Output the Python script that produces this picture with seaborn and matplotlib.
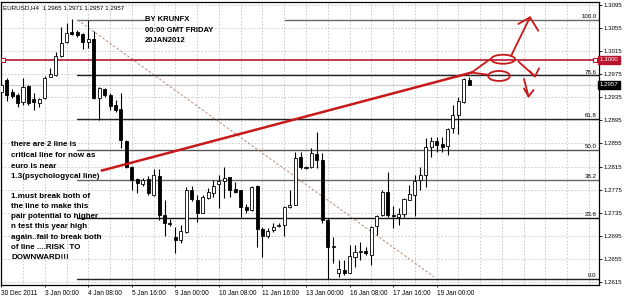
import numpy as np
import pandas as pd
import matplotlib
matplotlib.use("Agg")
import matplotlib.pyplot as plt
import matplotlib.transforms as mtrans
from matplotlib.patches import Ellipse
import seaborn as sns

# ---------------- data (EURUSD H4 candles) ----------------
bar_index = list(range(87))
opens = [1.2944, 1.2965, 1.2944, 1.2939, 1.2927, 1.2955, 1.2932, 1.2925, 1.2934, 1.2970,
         1.2974, 1.3007, 1.3031, 1.3048, 1.3048, 1.3045, 1.3031, 1.3036, 1.2934, 1.2949,
         1.2939, 1.2922, 1.2915, 1.2859, 1.2814, 1.2794, 1.2785, 1.2794, 1.2766, 1.2799,
         1.2731, 1.2717, 1.2693, 1.2688, 1.2702, 1.2774, 1.2757, 1.2735, 1.2761, 1.2769,
         1.2785, 1.2790, 1.2797, 1.2776, 1.2774, 1.2745, 1.2740, 1.2781, 1.2707, 1.2695,
         1.2705, 1.2712, 1.2714, 1.2745, 1.2748, 1.2832, 1.2813, 1.2814, 1.2837, 1.2826,
         1.2722, 1.2676, 1.2631, 1.2636, 1.2631, 1.2658, 1.2667, 1.2669, 1.2662, 1.2712,
         1.2731, 1.2771, 1.2731, 1.2728, 1.2733, 1.2757, 1.2766, 1.2792, 1.2800, 1.2849,
         1.2859, 1.2854, 1.2851, 1.2882, 1.2904, 1.2927, 1.2965]
highs = [1.2960, 1.2969, 1.2949, 1.2943, 1.2969, 1.2956, 1.2943, 1.2934, 1.2972, 1.2986,
         1.3014, 1.3057, 1.3064, 1.3071, 1.3052, 1.3047, 1.3069, 1.3050, 1.2953, 1.2951,
         1.2943, 1.2930, 1.2943, 1.2861, 1.2816, 1.2795, 1.2795, 1.2799, 1.2811, 1.2811,
         1.2757, 1.2724, 1.2710, 1.2714, 1.2780, 1.2781, 1.2766, 1.2766, 1.2778, 1.2792,
         1.2800, 1.2814, 1.2797, 1.2788, 1.2774, 1.2750, 1.2781, 1.2783, 1.2710, 1.2709,
         1.2717, 1.2717, 1.2747, 1.2774, 1.2840, 1.2840, 1.2816, 1.2847, 1.2875, 1.2839,
         1.2726, 1.2693, 1.2653, 1.2653, 1.2679, 1.2679, 1.2684, 1.2676, 1.2712, 1.2731,
         1.2774, 1.2806, 1.2747, 1.2743, 1.2761, 1.2783, 1.2800, 1.2814, 1.2865, 1.2866,
         1.2866, 1.2866, 1.2882, 1.2922, 1.2936, 1.2969, 1.2971]
lows = [1.2941, 1.2929, 1.2934, 1.2918, 1.2922, 1.2922, 1.2913, 1.2918, 1.2932, 1.2970,
        1.2972, 1.3005, 1.3029, 1.3043, 1.3040, 1.3019, 1.3021, 1.2932, 1.2896, 1.2936,
        1.2913, 1.2910, 1.2847, 1.2813, 1.2774, 1.2769, 1.2781, 1.2766, 1.2764, 1.2722,
        1.2695, 1.2712, 1.2665, 1.2683, 1.2700, 1.2755, 1.2719, 1.2735, 1.2759, 1.2762,
        1.2743, 1.2761, 1.2762, 1.2769, 1.2728, 1.2735, 1.2738, 1.2676, 1.2658, 1.2691,
        1.2702, 1.2710, 1.2695, 1.2743, 1.2748, 1.2811, 1.2811, 1.2813, 1.2813, 1.2717,
        1.2620, 1.2648, 1.2624, 1.2627, 1.2631, 1.2641, 1.2653, 1.2662, 1.2644, 1.2696,
        1.2729, 1.2728, 1.2709, 1.2714, 1.2728, 1.2757, 1.2729, 1.2774, 1.2780, 1.2832,
        1.2840, 1.2840, 1.2835, 1.2873, 1.2871, 1.2925, 1.2957]
closes = [1.2956, 1.2939, 1.2937, 1.2925, 1.2953, 1.2925, 1.2927, 1.2932, 1.2969, 1.2975,
          1.3007, 1.3029, 1.3047, 1.3045, 1.3043, 1.3031, 1.3036, 1.2934, 1.2951, 1.2939,
          1.2920, 1.2913, 1.2861, 1.2814, 1.2792, 1.2787, 1.2792, 1.2769, 1.2800, 1.2731,
          1.2717, 1.2716, 1.2688, 1.2703, 1.2774, 1.2759, 1.2735, 1.2762, 1.2771, 1.2781,
          1.2790, 1.2795, 1.2774, 1.2771, 1.2745, 1.2740, 1.2780, 1.2707, 1.2695, 1.2703,
          1.2710, 1.2714, 1.2745, 1.2748, 1.2830, 1.2814, 1.2813, 1.2839, 1.2826, 1.2722,
          1.2676, 1.2677, 1.2638, 1.2631, 1.2660, 1.2667, 1.2669, 1.2665, 1.2710, 1.2729,
          1.2771, 1.2731, 1.2729, 1.2733, 1.2759, 1.2767, 1.2790, 1.2800, 1.2849, 1.2859,
          1.2852, 1.2849, 1.2880, 1.2904, 1.2929, 1.2967, 1.2957]

date_tick_bars = [0, 8, 16, 24, 32, 40, 48, 56, 64, 72, 80]
date_tick_labels = ["30 Dec 2011", "3 Jan 00:00", "4 Jan 08:00", "5 Jan 16:00",
                    "9 Jan 00:00", "10 Jan 08:00", "11 Jan 16:00", "13 Jan 00:00",
                    "16 Jan 08:00", "17 Jan 16:00", "19 Jan 00:00"]
price_ticks = [1.3095, 1.3055, 1.3015, 1.2975, 1.2935, 1.2895, 1.2855,
               1.2815, 1.2775, 1.2735, 1.2695, 1.2655, 1.2615]
price_tick_labels = [f"{p:.4f}" for p in price_ticks]

fib_high = 1.3069
fib_low = 1.2620
fib_ratios = [100.0, 78.6, 61.8, 50.0, 38.2, 23.6, 0.0]
fib_start_bar = 14
fib_top_gap_bars = [26.4, 52.1]          # where the text hides the 100.0 line
fib_diag_bars = [14.05, 79.5]
fib_diag_prices = [1.3069, 1.2624]

psych_level = 1.3000
last_price = 1.2957
title_text = "EURUSD,H4  1.2965 1.2971 1.2957 1.2957"

# hand-drawn red annotation (bar index, price)
trend_bars = [18.45, 86.44]
trend_prices = [1.2808, 1.2978]
fork_up_bars = [86.44, 89.8]
fork_up_prices = [1.2978, 1.3001]
fork_dn_bars = [86.44, 89.43]
fork_dn_prices = [1.2978, 1.2974]
ellipse_centers_bars = [92.2, 91.46]
ellipse_centers_prices = [1.3001, 1.2972]
ellipse_widths = [4.4, 4.0]
ellipse_heights = [0.00156, 0.00173]
arrow_up_bars = [[93.66, 97.15], [95.0, 97.15, 98.67]]
arrow_up_prices = [[1.30066, 1.30737], [1.30621, 1.30737, 1.30505]]
arrow_d1_bars = [[95.06, 98.07], [97.06, 98.07, 98.81]]
arrow_d1_prices = [[1.29967, 1.29711], [1.29806, 1.29711, 1.29853]]
arrow_d2_bars = [[96.05, 96.88], [96.05, 96.88, 97.8]]
arrow_d2_prices = [[1.29668, 1.29364], [1.29503, 1.29364, 1.29477]]

header_lines = ["BY KRUNFX", "00:00 GMT FRIDAY", "20JAN2012"]
note_lines_1 = ["there are 2 line is", "critical line for now as", "euro is near",
                "1.3(psychologycal line)"]
note_lines_2 = ["1.must break both of", "the line to make this", "pair potential to higher",
                "n test this year high", "again..fail to break both", "of line ....RISK  TO",
                "DOWNWARD!!!"]

# ---------------- figure ----------------
sns.set_theme(style="white")
plt.rcParams['font.family'] = ['Liberation Sans', 'DejaVu Sans']

W, H = 625, 299
fig = plt.figure(figsize=(W / 100, H / 100), dpi=100)
fig.patch.set_facecolor("white")
ax = fig.add_axes([1 / W, 14 / H, 598 / W, 283 / H])
ax.set_facecolor("white")

XMIN, XMAX = -0.04, 109.83
YMIN, YMAX = 1.26097, 1.31002
ax.set_xlim(XMIN, XMAX)
ax.set_ylim(YMIN, YMAX)


def ref(x, y):
    """reference pixel position -> axes fraction (for text placement)"""
    return (x - 1) / 598, (285 - y) / 283


# grid
for p in price_ticks:
    ax.axhline(p, color="#c4c4c4", lw=0.6, ls=(0, (2, 2)), zorder=0)
for b in range(4, 110, 4):
    ax.axvline(b, color="#c4c4c4", lw=0.6, ls=(0, (2, 2)), zorder=0)

# bid line
ax.axhline(last_price, color="#cfcfcf", lw=0.9, zorder=1)

# fib levels
fib_colors = ["#6a6a6a", "#222222", "#222222", "#555555", "#666666", "#111111", "#222222"]
blend = mtrans.blended_transform_factory(ax.transAxes, ax.transData)
for r, c in zip(fib_ratios, fib_colors):
    lvl = fib_low + r / 100 * (fib_high - fib_low)
    if r == 100.0:
        ax.plot([fib_start_bar, fib_top_gap_bars[0]], [lvl, lvl], color=c, lw=1.0, zorder=2)
        ax.plot([fib_top_gap_bars[1], XMAX], [lvl, lvl], color=c, lw=1.0, zorder=2)
    else:
        ax.plot([fib_start_bar, XMAX], [lvl, lvl], color=c, lw=1.0, zorder=2)
    ax.text(0.996, lvl + 0.00012, f"{r:.1f}", transform=blend, ha="right", va="bottom",
            fontsize=4.4, color="black", zorder=6)

ax.plot(fib_diag_bars, fib_diag_prices, color="#b48a78", lw=0.7, ls=(0, (2.5, 2)), zorder=2)

# psychological line
red_line = "#b8142e"
ax.axhline(psych_level, color=red_line, lw=1.2, zorder=2)
ax.plot([0.35, 109.1], [psych_level, psych_level], ls="none", marker="s", ms=2.6,
        mfc="white", mec=red_line, mew=0.8, zorder=3, clip_on=False)

# candles
df = pd.DataFrame(dict(bar=bar_index, open=opens, high=highs, low=lows, close=closes))
up = df["close"] >= df["open"]
ax.vlines(df["bar"], df["low"], df["high"], color="black", lw=0.8, zorder=4)
body_bottom = np.minimum(df["open"], df["close"])
body_h = np.maximum((df["close"] - df["open"]).abs(), 0.00004)
ax.bar(df["bar"], body_h, bottom=body_bottom, width=0.56,
       color=np.where(up, "white", "black"), edgecolor="black", linewidth=0.6, zorder=5)

# red hand drawing
hand = "#c81818"
sns.lineplot(x=trend_bars, y=trend_prices, ax=ax, color=hand, lw=1.8, zorder=7)
ax.plot(fork_up_bars, fork_up_prices, color=hand, lw=1.3, zorder=7)
ax.plot(fork_dn_bars, fork_dn_prices, color=hand, lw=1.3, zorder=7)
for cx, cy, w, h in zip(ellipse_centers_bars, ellipse_centers_prices, ellipse_widths, ellipse_heights):
    ax.add_patch(Ellipse((cx, cy), w, h, fill=False, edgecolor=hand, lw=1.3, zorder=7))
for bars, prices in [(arrow_up_bars, arrow_up_prices), (arrow_d1_bars, arrow_d1_prices),
                     (arrow_d2_bars, arrow_d2_prices)]:
    for bx, py in zip(bars, prices):
        ax.plot(bx, py, color=hand, lw=1.3, zorder=7, solid_capstyle="round")

# texts
ax.text(*ref(3, 7.5), title_text, transform=ax.transAxes, fontsize=4.5, ha="left",
        va="center", color="black", zorder=8)
for line, y in zip(header_lines, [19.5, 30, 40.5]):
    ax.text(*ref(145, y), line, transform=ax.transAxes, fontsize=5.5, fontweight="bold",
            ha="left", va="center", color="black", zorder=8)
for line, y in zip(note_lines_1, [145, 155.5, 166, 176]):
    ax.text(*ref(11, y), line, transform=ax.transAxes, fontsize=5.8, fontweight="bold",
            ha="left", va="center", color="black", zorder=8)
for line, y in zip(note_lines_2, [196, 206.3, 216.6, 226.9, 237.2, 247.5, 257.8]):
    ax.text(*ref(11, y), line, transform=ax.transAxes, fontsize=5.8, fontweight="bold",
            ha="left", va="center", color="black", zorder=8)

# axes ticks
ax.yaxis.tick_right()
ax.set_yticks(price_ticks)
ax.set_yticklabels(price_tick_labels)
ax.set_xticks(date_tick_bars)
ax.set_xticklabels(date_tick_labels, ha="left")
ax.tick_params(axis="y", length=2, width=0.6, pad=1.5, labelsize=4.4, colors="black",
               direction="out", right=True)
ax.tick_params(axis="x", length=1.5, width=0.6, pad=1.8, labelsize=4.7, colors="black",
               direction="out", bottom=True)
for s in ax.spines.values():
    s.set_color("black")
    s.set_linewidth(0.9)

# price boxes on the axis
ax.text(1.0015, psych_level, "1.3000", transform=blend, ha="left", va="center",
        fontsize=4.4, color="white", zorder=9, clip_on=False,
        bbox=dict(boxstyle="square,pad=0.25", fc=red_line, ec=red_line))
ax.text(1.0015, last_price, "1.2957", transform=blend, ha="left", va="center",
        fontsize=4.4, color="white", zorder=9, clip_on=False,
        bbox=dict(boxstyle="square,pad=0.25", fc="black", ec="black"))

fig.savefig("out.png", dpi=100, facecolor="white")
